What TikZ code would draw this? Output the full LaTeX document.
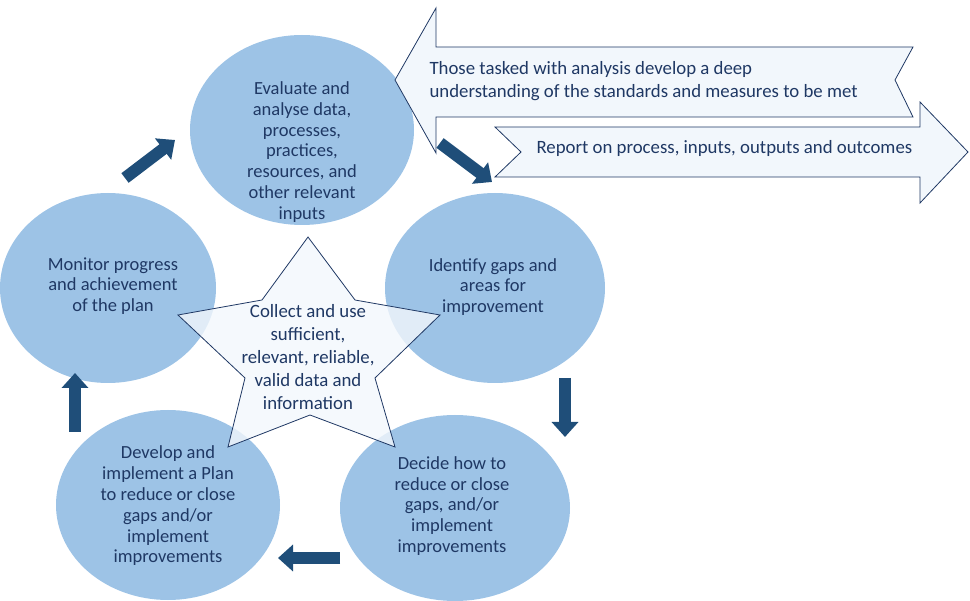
\documentclass[tikz,border=0pt]{standalone}
\usepackage{fontspec}
\setmainfont{Carlito}
\usetikzlibrary{arrows.meta}
\definecolor{ell}{HTML}{9DC3E6}
\definecolor{txt}{HTML}{1F3864}
\definecolor{arr}{HTML}{1F4E79}
\definecolor{pale}{HTML}{F2F7FC}
\begin{document}
\begin{tikzpicture}[x=1pt,y=-1pt,
  el/.style={ellipse,fill=ell,draw=none,inner sep=0pt},
  tx/.style={text=txt,align=center,font=\fontsize{18.5}{20.8}\selectfont},
  tb/.style={text=txt,align=center,font=\fontsize{18.8}{23.2}\selectfont},
  flow/.style={draw=arr,line width=12pt,-{Triangle[width=26pt,length=15pt]}},
  big/.style={fill=pale,draw=txt,line width=0.8pt,line join=miter}]
\path[use as bounding box] (0,0) rectangle (970,601);
\fill[ell] (302,130) ellipse [x radius=112,y radius=95];
\fill[ell] (495,288) ellipse [x radius=110,y radius=95];
\fill[ell] (455,508) ellipse [x radius=115,y radius=93];
\fill[ell] (168,505) ellipse [x radius=112,y radius=95];
\fill[ell] (108,288) ellipse [x radius=108,y radius=95];
\node[tx] (t1) at (302,152) {Evaluate and\\analyse data,\\processes,\\practices,\\resources, and\\other relevant\\inputs};
\node[tx] (t2) at (493,287) {Identify gaps and\\areas for\\improvement};
\node[tx] (t3) at (452,506) {Decide how to\\reduce or close\\gaps, and/or\\implement\\improvements};
\node[tx] (t4) at (168,506) {Develop and\\implement a Plan\\to reduce or close\\gaps and/or\\implement\\improvements};
\node[tx] (t5) at (113,286) {Monitor progress\\and achievement\\of the plan};
\draw[big,fill=pale,fill opacity=0.8] (308,237) -- (355,300) -- (440,315) -- (375,378) -- (395,447) -- (310,415) -- (228,447) -- (245,378) -- (178,315) -- (262,300) -- cycle;
\node[tb] (t6) at (308,357) {Collect and use\\sufficient,\\relevant, reliable,\\valid data and\\information};
\draw[big] (395,80) -- (436,8) -- (436,47) -- (913,47) -- (895,80) -- (913,117) -- (436,117) -- (436,153) -- cycle;
\draw[big] (495,127) -- (920,127) -- (920,102) -- (968,152) -- (920,203) -- (920,177) -- (495,177) -- (521,152) -- cycle;
\node[tb,align=left,anchor=west] (a1) at (426,81) {Those tasked with analysis develop a deep\\understanding of the standards and measures to be met};
\node[tb,anchor=west] (a2) at (533,148) {Report on process, inputs, outputs and outcomes};
\coordinate (p1a) at (125,178); \coordinate (p1b) at (175,140);
\coordinate (p2a) at (440,143); \coordinate (p2b) at (492,182);
\coordinate (p3a) at (565,378); \coordinate (p3b) at (565,437);
\coordinate (p4a) at (340,558); \coordinate (p4b) at (278,558);
\coordinate (p5a) at (75,432); \coordinate (p5b) at (75,373);
\draw[flow] (p1a) -- (p1b);
\draw[flow] (p2a) -- (p2b);
\draw[flow] (p3a) -- (p3b);
\draw[flow] (p4a) -- (p4b);
\draw[flow] (p5a) -- (p5b);
\end{tikzpicture}
\end{document}
